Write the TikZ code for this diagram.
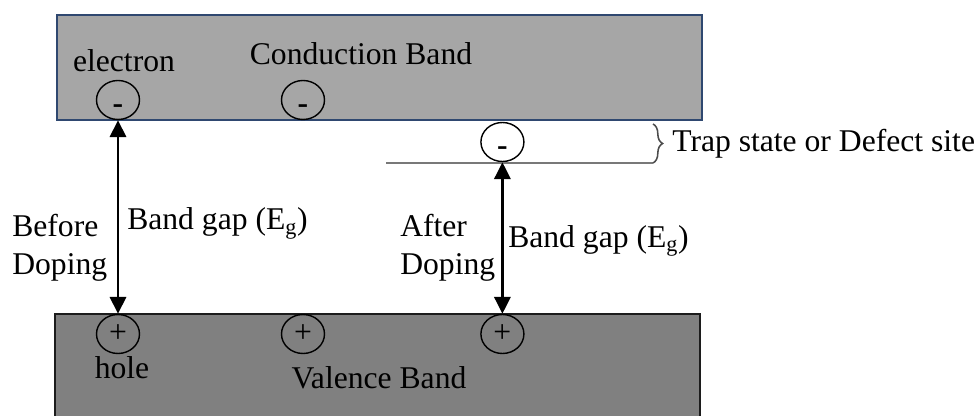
\documentclass[tikz,border=0pt]{standalone}
\usepackage{fontspec}
\setmainfont{Liberation Serif}
\usepackage{tikz}
\usetikzlibrary{arrows.meta, positioning, shapes.geometric, decorations.pathreplacing}
\definecolor{cbandfill}{RGB}{166,166,166}
\definecolor{cbandline}{RGB}{47,72,112}
\definecolor{vbandfill}{RGB}{128,128,128}
\definecolor{vbandline}{RGB}{28,28,28}
\definecolor{trapgray}{RGB}{120,120,120}
\newcommand{\eminus}{\raisebox{-0.22em}[0.42em][0pt]{\textbf{-}}}

\begin{document}
\begin{tikzpicture}[
    cband/.style={draw=cbandline,fill=cbandfill,line width=1.4pt,inner sep=0pt,
      minimum width=16.125cm,minimum height=2.625cm},
    vband/.style={draw=vbandline,fill=vbandfill,line width=1.4pt,inner sep=0pt,
      minimum width=16.125cm,minimum height=2.75cm},
    carrier/.style={draw,ellipse,line width=1pt,inner sep=0pt,
      minimum width=1.075cm,minimum height=0.975cm},
    lbl/.style={inner sep=0pt},
    trapline/.style={trapgray,line width=1.1pt},
    gaparrow/.style={{Triangle[length=0.42cm,width=0.4cm]}-{Triangle[length=0.42cm,width=0.4cm]},
      line width=2.1pt},
    font=\fontsize{22.5}{27}\selectfont
  ]
  \useasboundingbox (0,0) rectangle (24.425,-10.4);

  % Bands
  \node[cband] (cb) at (9.4875,-1.6875) {};
  \node[vband] (vb) at (9.4375,-9.225) {};
  \node[lbl,anchor=base] (cbtext) at (9.025,-1.625) {Conduction Band};
  \node[lbl,anchor=base] (vbtext) at (9.475,-9.7) {Valence Band};

  % Electrons and holes
  \node[carrier] (e1) at (2.95,-2.5) {\eminus};
  \node[carrier] (e2) at (7.575,-2.5) {\eminus};
  \node[carrier] (t1) at (12.56,-3.55) {\eminus};
  \node[carrier] (h1) at (2.95,-8.35) {+};
  \node[carrier] (h2) at (7.575,-8.35) {+};
  \node[carrier] (h3) at (12.56,-8.35) {+};
  \node[lbl,above=0.19cm of e1,xshift=0.15cm] (electron) {electron};
  \node[lbl,below=0.05cm of h1,xshift=0.1cm] (hole) {hole};

  % Trap level
  \coordinate (trapL) at (9.65,-4.075);
  \coordinate (trapR) at (16.325,-4.075);
  \coordinate (trapT) at (16.325,-3.1);
  \draw[trapline] (trapL) -- (trapR);
  \draw[trapline,black!70,decorate,decoration={brace,amplitude=0.24cm}] (trapT) -- (trapR);
  \node[lbl,anchor=base west] (traptext) at (16.8,-3.8) {Trap state or Defect site};

  % Band gaps
  \draw[gaparrow] (e1.south) -- (h1.north);
  \draw[gaparrow] (t1.south) -- (h3.north);
  \node[lbl,anchor=base west] (gapL) at (3.175,-5.75) {Band gap (E\textsubscript{g})};
  \node[lbl,anchor=base west] (gapR) at (12.7,-6.175) {Band gap (E\textsubscript{g})};
  \node[lbl,anchor=north west,align=left] (before) at (0.3,-5.34) {Before\\Doping};
  \node[lbl,anchor=north west,align=left] (after) at (10.0,-5.34) {After\\Doping};
\end{tikzpicture}
\end{document}
